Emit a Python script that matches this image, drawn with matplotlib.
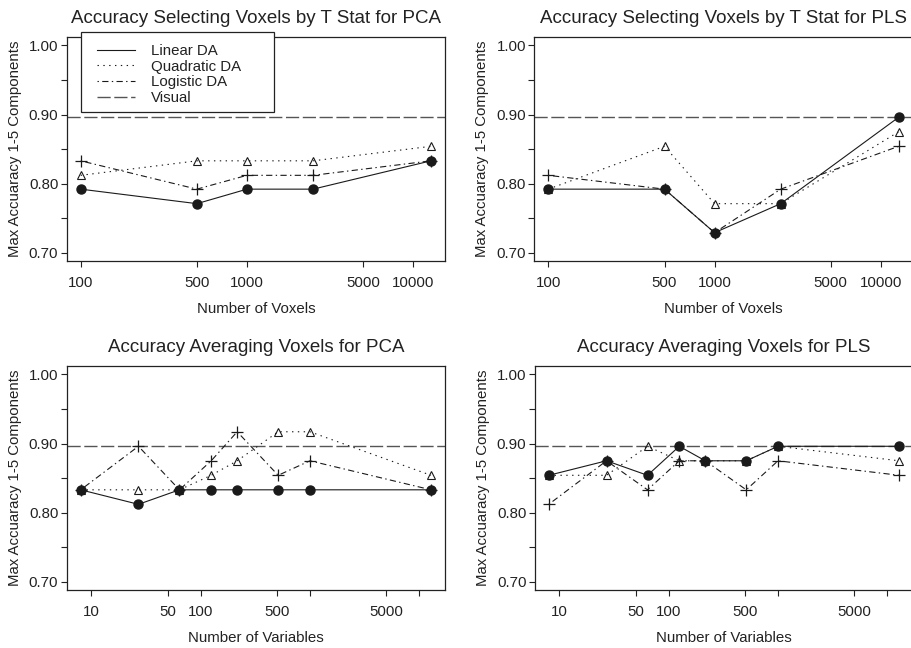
import matplotlib
matplotlib.use("Agg")
import matplotlib.pyplot as plt
from matplotlib.lines import Line2D
from matplotlib.patches import Rectangle

# number of voxels / variables on the x axis
voxels = [100, 500, 1000, 2500, 12800]
variables = [8, 27, 64, 125, 216, 512, 1000, 12800]

visual_acc = 0.896

# T stat selection, PCA
pca_t_linear = [0.792, 0.771, 0.792, 0.792, 0.833]
pca_t_quad = [0.812, 0.833, 0.833, 0.833, 0.854]
pca_t_logit = [0.833, 0.792, 0.812, 0.812, 0.833]

# T stat selection, PLS
pls_t_linear = [0.792, 0.792, 0.729, 0.771, 0.896]
pls_t_quad = [0.792, 0.854, 0.771, 0.771, 0.875]
pls_t_logit = [0.812, 0.792, 0.729, 0.792, 0.854]

# averaging voxels, PCA
pca_avg_linear = [0.833, 0.812, 0.833, 0.833, 0.833, 0.833, 0.833, 0.833]
pca_avg_quad = [0.833, 0.833, 0.833, 0.854, 0.875, 0.917, 0.917, 0.854]
pca_avg_logit = [0.833, 0.896, 0.833, 0.875, 0.917, 0.854, 0.875, 0.833]

# averaging voxels, PLS
pls_avg_linear = [0.854, 0.875, 0.854, 0.896, 0.875, 0.875, 0.896, 0.896]
pls_avg_quad = [0.854, 0.854, 0.896, 0.875, 0.875, 0.875, 0.896, 0.875]
pls_avg_logit = [0.812, 0.875, 0.833, 0.875, 0.875, 0.833, 0.875, 0.854]

voxel_ticks = [100, 500, 1000, 5000, 10000]
voxel_labels = ['100', '500', '1000', '5000', '10000']
var_ticks = [10, 50, 100, 500, 1000, 5000, 10000]
var_labels = ['10', '50', '100', '500', '', '5000', '']

y_ticks = [0.70, 0.75, 0.80, 0.85, 0.90, 0.95, 1.00]
y_labels = ['0.70', '', '0.80', '', '0.90', '', '1.00']

legend_labels = ['Linear DA', 'Quadratic DA', 'Logistic DA', 'Visual']

LINE_COLOR = '#1a1a1a'
TEXT_COLOR = '#222222'
FS = 10.8
DOTTED = (0, (1, 3.2))
DOTDASH = (0, (1, 2.4, 4.5, 2.4))
STYLES = {
    'linear': dict(linestyle='-', marker='o', markersize=6.5, markerfacecolor=LINE_COLOR,
                   markeredgecolor=LINE_COLOR),
    'quad': dict(linestyle=DOTTED, marker='^', markersize=5.5, markerfacecolor='none',
                 markeredgecolor=LINE_COLOR, markeredgewidth=0.8),
    'logit': dict(linestyle=DOTDASH, marker='+', markersize=8,
                  markeredgecolor=LINE_COLOR, markeredgewidth=0.9),
}
VISUAL_STYLE = dict(color='#555555', linewidth=1.0, linestyle=(0, (9.5, 2.6)))


def draw_panel(ax, x, lin, quad, logit, title, xlabel, ticks, labels):
    ax.axhline(visual_acc, **VISUAL_STYLE)
    ax.plot(x, quad, color=LINE_COLOR, linewidth=0.8, **STYLES['quad'])
    ax.plot(x, logit, color=LINE_COLOR, linewidth=0.8, **STYLES['logit'])
    ax.plot(x, lin, color=LINE_COLOR, linewidth=0.8, **STYLES['linear'])

    ax.set_xscale('log')
    lo, hi = min(x), max(x)
    span = (hi / lo) ** 0.04
    ax.set_xlim(lo / span, hi * span)
    ax.set_ylim(0.688, 1.012)
    ax.minorticks_off()
    ax.set_xticks(ticks)
    ax.set_xticklabels(labels)
    ax.set_yticks(y_ticks)
    ax.set_yticklabels(y_labels)
    ax.tick_params(axis='x', direction='out', length=4, width=0.8, pad=6.5, labelsize=FS)
    ax.tick_params(axis='y', direction='out', length=4, width=0.8, pad=2, labelsize=FS)
    for s in ax.spines.values():
        s.set_linewidth(0.9)
        s.set_color(TEXT_COLOR)

    ax.set_title(title, fontsize=13.5, pad=10)
    ax.set_xlabel(xlabel, fontsize=FS, labelpad=9)
    ax.set_ylabel('Max Accuaracy 1-5 Components', fontsize=FS, labelpad=5)


def main():
    plt.rcParams['font.family'] = ['Liberation Sans', 'DejaVu Sans']
    plt.rcParams['lines.scale_dashes'] = False
    plt.rcParams['text.color'] = TEXT_COLOR
    plt.rcParams['axes.labelcolor'] = TEXT_COLOR
    plt.rcParams['xtick.color'] = TEXT_COLOR
    plt.rcParams['ytick.color'] = TEXT_COLOR

    W, H = 911, 648
    fig = plt.figure(figsize=(W / 100, H / 100), dpi=100)
    w, h = 0.4153, 0.3455
    ax1 = fig.add_axes([0.0732, 0.5972, w, h])
    ax2 = fig.add_axes([0.5865, 0.5972, w, h])
    ax3 = fig.add_axes([0.0732, 0.0895, w, h])
    ax4 = fig.add_axes([0.5870, 0.0895, w, h])

    draw_panel(ax1, voxels, pca_t_linear, pca_t_quad, pca_t_logit,
               'Accuracy Selecting Voxels by T Stat for PCA', 'Number of Voxels',
               voxel_ticks, voxel_labels)
    draw_panel(ax2, voxels, pls_t_linear, pls_t_quad, pls_t_logit,
               'Accuracy Selecting Voxels by T Stat for PLS', 'Number of Voxels',
               voxel_ticks, voxel_labels)
    draw_panel(ax3, variables, pca_avg_linear, pca_avg_quad, pca_avg_logit,
               'Accuracy Averaging Voxels for PCA', 'Number of Variables',
               var_ticks, var_labels)
    draw_panel(ax4, variables, pls_avg_linear, pls_avg_quad, pls_avg_logit,
               'Accuracy Averaging Voxels for PLS', 'Number of Variables',
               var_ticks, var_labels)

    # legend box drawn by hand (R-style wide box), entries placed inside it
    fig.patches.append(Rectangle((80.7 / W, 1 - 112.3 / H), 193.3 / W, 80 / H,
                                 transform=fig.transFigure, facecolor='white',
                                 edgecolor=TEXT_COLOR, linewidth=0.9, zorder=5))
    handles = [
        Line2D([], [], color=LINE_COLOR, linewidth=0.8, linestyle='-'),
        Line2D([], [], color=LINE_COLOR, linewidth=0.8, linestyle=DOTTED),
        Line2D([], [], color=LINE_COLOR, linewidth=0.8, linestyle=DOTDASH),
        Line2D([], [], **VISUAL_STYLE),
    ]
    leg = fig.legend(handles, legend_labels,
                     loc='upper left', bbox_to_anchor=(96.7 / W, 1 - 44.0 / H),
                     fontsize=FS, frameon=False, borderpad=0,
                     handlelength=2.55, handletextpad=1.05, labelspacing=0.11,
                     borderaxespad=0)
    leg.set_zorder(6)

    fig.savefig('out.png', dpi=100)
    plt.close(fig)


if __name__ == "__main__":
    main()
